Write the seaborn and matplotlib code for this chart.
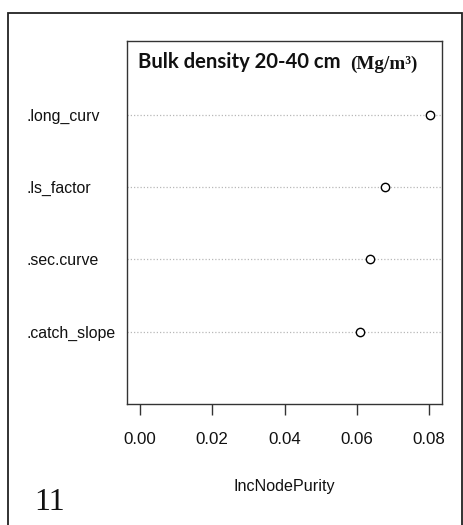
import matplotlib
matplotlib.use("Agg")
import matplotlib.pyplot as plt
import matplotlib.patches as mpatches
import seaborn as sns
import pandas as pd

# Variable importance (IncNodePurity) for bulk density at 20-40 cm
variables = [".long_curv", ".ls_factor", ".sec.curve", ".catch_slope"]
importance = [0.0803, 0.0678, 0.0638, 0.0610]
x_ticks = [0.00, 0.02, 0.04, 0.06, 0.08]
x_tick_labels = ["0.00", "0.02", "0.04", "0.06", "0.08"]

df = pd.DataFrame({"variable": variables, "IncNodePurity": importance})

sns.set_theme(style="white")
plt.rcParams["font.family"] = ["Liberation Sans", "DejaVu Sans"]

W, H, DPI = 464, 525, 100
fig = plt.figure(figsize=(W / DPI, H / DPI), dpi=DPI)
fig.patch.set_facecolor("white")

left, right, top, bottom = 127, 442, 41, 404
ax = fig.add_axes([left / W, 1 - bottom / H, (right - left) / W, (bottom - top) / H])

# dotted guide lines for each variable
for i in range(len(variables)):
    ax.axhline(i, color="#b8b8b8", linestyle=(0, (1.0, 1.6)), linewidth=0.9, zorder=1)

sns.stripplot(data=df, x="IncNodePurity", y="variable", order=variables,
              jitter=False, color="white", edgecolor="black", linewidth=1.0,
              size=6.0, ax=ax, zorder=3)

ax.set_xlim(-0.0036, 0.0836)
ax.set_ylim(len(variables), -1.02)

for s in ax.spines.values():
    s.set_visible(True)
    s.set_color("#333333")
    s.set_linewidth(1.0)

ax.set_xticks(x_ticks)
ax.set_xticklabels(x_tick_labels)
ax.tick_params(axis="x", direction="out", length=8, width=1.0, color="#333333",
               pad=12, labelsize=12.2, labelcolor="#111111", bottom=True)
ax.tick_params(axis="y", length=0, pad=72, labelsize=11.4, labelcolor="#111111")
for lbl in ax.get_yticklabels():
    lbl.set_horizontalalignment("left")

ax.set_ylabel("")
ax.set_xlabel("IncNodePurity", fontsize=11.6, color="#111111")
ax.xaxis.set_label_coords(0.5, -(487 - bottom) / (bottom - top))
ax.xaxis.label.set_verticalalignment("center")

# title: bold sans part plus serif unit
ax.text((138 - left) / (right - left), 1 - (62 - top) / (bottom - top),
        "Bulk density 20-40 cm", transform=ax.transAxes, fontsize=14.6,
        fontweight="bold", family=["Lato", "DejaVu Sans"], va="center", ha="left",
        color="#111111")
ax.text((350 - left) / (right - left), 1 - (64 - top) / (bottom - top),
        "(Mg/m³)", transform=ax.transAxes, fontsize=13.8, fontweight="bold",
        family=["Liberation Serif", "DejaVu Serif"], va="center", ha="left",
        color="#111111")

# panel number and outer frame
fig.text(34 / W, 1 - 502 / H, "11", fontsize=23, family=["Liberation Serif", "DejaVu Serif"],
         va="center", ha="left", color="#111111")
frame = mpatches.Rectangle((8 / W, -0.05), (462 - 8) / W, 1.05 - 13 / H,
                           transform=fig.transFigure, fill=False,
                           edgecolor="#222222", linewidth=1.3)
fig.patches.append(frame)

fig.savefig("out.png", dpi=DPI, facecolor="white")
